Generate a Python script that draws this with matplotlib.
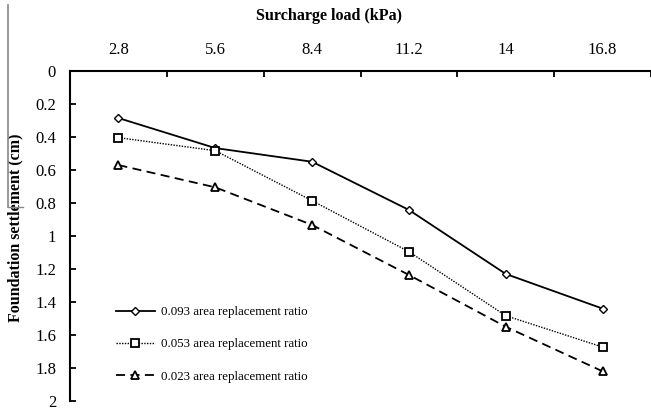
import numpy as np
import matplotlib
matplotlib.use("Agg")
import matplotlib.pyplot as plt
from matplotlib import lines

# Data
loads = ["2.8", "5.6", "8.4", "11.2", "14", "16.8"]
ratio_093 = [0.285, 0.467, 0.55, 0.842, 1.23, 1.44]
ratio_053 = [0.404, 0.483, 0.786, 1.095, 1.483, 1.673]
ratio_023 = [0.57, 0.705, 0.933, 1.236, 1.55, 1.82]
y_ticks = [0, 0.2, 0.4, 0.6, 0.8, 1, 1.2, 1.4, 1.6, 1.8, 2]
y_tick_labels = ["0", "0.2", "0.4", "0.6", "0.8", "1", "1.2", "1.4", "1.6", "1.8", "2"]

plt.rcParams["font.family"] = ["Liberation Serif", "DejaVu Serif"]

W, H = 651, 409
fig = plt.figure(figsize=(W / 100, H / 100), dpi=100)
ax = fig.add_axes([70 / W, 1 - 401 / H, (651 - 70) / W, (401 - 71) / H])

x = np.arange(len(loads))
ax.plot(x, ratio_093, color="black", lw=1.3, ls="-", marker="D", ms=4,
        mfc="white", mec="black", mew=1.0, label="0.093 area replacement ratio")
ax.plot(x, ratio_053, color="black", lw=1.0, ls=(0, (1, 1)), marker="s", ms=6,
        mfc="white", mec="black", mew=1.3, label="0.053 area replacement ratio")
ax.plot(x, ratio_023, color="black", lw=1.3, ls=(0, (5, 3)), marker="^", ms=6,
        mfc="white", mec="black", mew=1.3, label="0.023 area replacement ratio")

ax.set_xlim(-0.5, len(loads) - 0.5)
ax.set_ylim(2, 0)

# Category axis on top: boundary ticks, labels centred on categories
ax.xaxis.tick_top()
ax.set_xticks(np.arange(-0.5, len(loads), 1.0))
ax.set_xticklabels([])
ax.set_xticks(x, minor=True)
ax.set_xticklabels(loads, minor=True, fontsize=12)
ax.tick_params(axis="x", which="major", direction="in", length=4, width=1.3)
ax.tick_params(axis="x", which="minor", length=0, pad=9)

ax.set_yticks(y_ticks)
ax.set_yticklabels(y_tick_labels, fontsize=12)
ax.tick_params(axis="y", direction="in", length=4, width=1.3, pad=10)

ax.spines["bottom"].set_visible(False)
ax.spines["right"].set_visible(False)
ax.spines["top"].set_lw(1.5)
ax.spines["left"].set_lw(1.5)

ax.set_ylabel("Foundation settlement (cm)", fontsize=11.5, fontweight="bold")
ax.yaxis.set_label_coords(-(70 - 23) / (651 - 70), 1 - (228 - 71) / 330)

fig.text(329 / W, 1 - 16 / H, "Surcharge load (kPa)", ha="center", va="center",
         fontsize=11.6, fontweight="bold")

ax.legend(loc="upper left", bbox_to_anchor=((116 - 70) / 581, 1 - (306 - 71) / 330),
          frameon=False, fontsize=9.3, borderpad=0, borderaxespad=0,
          handlelength=3.0, handletextpad=0.5, labelspacing=1.58)

# Scan artefacts at the left edge
fig.add_artist(lines.Line2D([8 / W, 8 / W], [1 - 5 / H, 1 - 207 / H], color="#888888", lw=1.2))
fig.add_artist(lines.Line2D([8 / W, 23 / W], [1 - 207 / H, 1 - 207 / H], color="#888888", lw=1.0))

fig.set_facecolor("white")
plt.savefig("out.png", dpi=100)
